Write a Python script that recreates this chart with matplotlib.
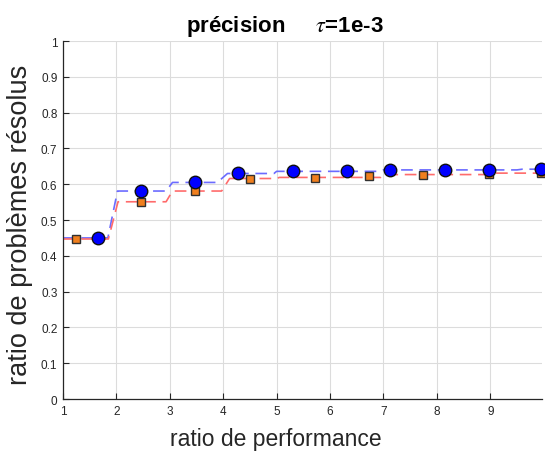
import numpy as np
import matplotlib.pyplot as plt

plt.rcParams['font.family'] = ['Liberation Sans', 'DejaVu Sans']
plt.rcParams['mathtext.fontset'] = 'stix'

# profile curves (performance ratio, fraction solved)
x_red = [1.0, 1.85, 2.03, 2.93, 3.05, 3.97, 4.12, 5.0, 5.05, 6.95, 7.0, 8.95, 9.0, 10.0]
y_red = [0.447, 0.447, 0.551, 0.551, 0.581, 0.581, 0.616, 0.616, 0.619, 0.619, 0.627, 0.627, 0.631, 0.631]
x_blue = [1.0, 1.84, 2.02, 2.93, 3.05, 3.89, 4.08, 4.95, 5.0, 6.9, 7.0, 9.5, 9.6, 10.0]
y_blue = [0.45, 0.45, 0.581, 0.581, 0.605, 0.605, 0.630, 0.630, 0.636, 0.636, 0.640, 0.640, 0.642, 0.642]

# marker positions along each curve
mx_red = [1.24, 2.46, 3.47, 4.50, 5.72, 6.73, 7.74, 8.97, 9.95]
my_red = [0.447, 0.551, 0.581, 0.616, 0.618, 0.622, 0.627, 0.628, 0.631]
mx_blue = [1.65, 2.46, 3.47, 4.28, 5.30, 6.32, 7.12, 8.15, 8.97, 9.95]
my_blue = [0.45, 0.581, 0.605, 0.630, 0.636, 0.636, 0.640, 0.640, 0.640, 0.642]

fig = plt.figure(figsize=(5.45, 4.52), dpi=100)
ax = fig.add_axes([0.1156, 0.115, 0.879, 0.792])

ax.plot(x_blue, y_blue, color='#6b6bff', lw=1.2, dashes=(7, 4), zorder=2, clip_on=False)
ax.plot(x_red, y_red, color='#ff6b6b', lw=1.2, dashes=(7, 4), zorder=2, clip_on=False)
ax.plot(mx_red, my_red, ls='none', marker='s', ms=5.5, mfc='#f07f1e',
        mec='#303030', mew=1.0, zorder=3, clip_on=False)
ax.plot(mx_blue, my_blue, ls='none', marker='o', ms=9, mfc='#0000ff',
        mec='#101010', mew=1.0, zorder=4, clip_on=False)

ax.set_xlim(1, 9.97)
ax.set_ylim(0, 1)
ax.set_xticks(range(1, 10))
ax.set_yticks(np.round(np.arange(0, 1.01, 0.1), 1))
ax.set_yticklabels(['0', '0.1', '0.2', '0.3', '0.4', '0.5', '0.6', '0.7', '0.8', '0.9', '1'])
ax.grid(True, color='#dcdcdc', lw=0.8)
ax.set_axisbelow(True)
for s in ['top', 'right']:
    ax.spines[s].set_visible(False)
for s in ['left', 'bottom']:
    ax.spines[s].set_color('#262626')
    ax.spines[s].set_linewidth(0.9)
ax.tick_params(direction='in', length=4, width=0.8, labelsize=8.5,
               colors='#262626', pad=4)

ax.set_xlabel('ratio de performance', fontsize=16.5, color='#262626')
ax.xaxis.set_label_coords(0.445, -0.078)
ax.set_ylabel('ratio de problèmes résolus', fontsize=19.5, color='#262626')
ax.yaxis.set_label_coords(-0.062, 0.49)
ax.set_title('précision     $\\tau$=1e-3', fontsize=16, fontweight='bold',
             x=0.463, pad=7)

fig.savefig('out.png', dpi=100)
